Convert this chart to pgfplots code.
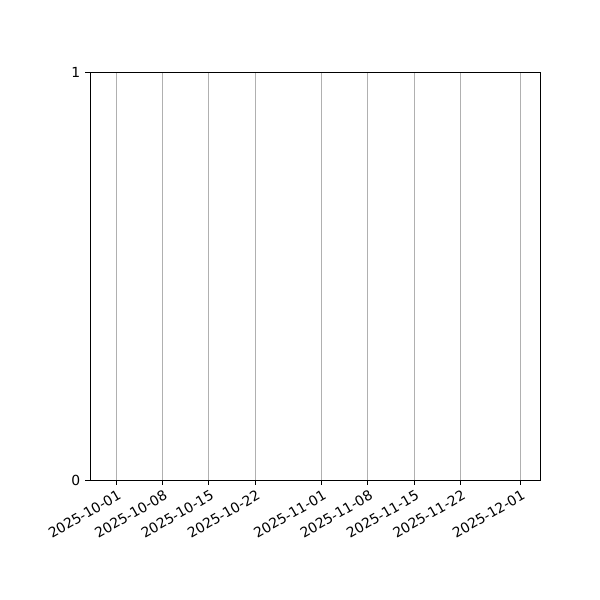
\documentclass[border=0pt]{standalone}
\usepackage{fontspec}
\setmainfont{DejaVu Sans}
\usepackage{pgfplots}
\pgfplotsset{compat=1.18}

\begin{document}
\begin{tikzpicture}
% fix the page to 600x600 px (1px = 0.72pt), axis box at px (90,72)-(540,480)
\useasboundingbox (-64.8pt,-86.4pt) rectangle (367.2pt,345.6pt);
\begin{axis}[
    scale only axis,
    width=324pt, height=293.76pt,
    xmin=-3.93, xmax=64.0,
    ymin=0, ymax=1,
    % days after 2025-10-01
    xtick={0,7,14,21,31,38,45,52,61},
    xticklabels={2025-10-01,2025-10-08,2025-10-15,2025-10-22,2025-11-01,2025-11-08,2025-11-15,2025-11-22,2025-12-01},
    ytick={0,1},
    xmajorgrids,
    grid style={color=black!31, line width=0.6pt},
    axis line style={line width=0.6pt},
    tick style={black, line width=0.6pt},
    major tick length=3.5pt,
    tick align=outside,
    xtick pos=bottom, ytick pos=left,
    xticklabel style={rotate=30, anchor=north east, font=\fontsize{10}{12}\selectfont, inner sep=1pt, yshift=-2pt},
    yticklabel style={font=\fontsize{10}{12}\selectfont},
    /pgf/number format/assume math mode=true,
]
\addplot[draw=none] coordinates {(0,0)};
\end{axis}
\end{tikzpicture}
\end{document}
